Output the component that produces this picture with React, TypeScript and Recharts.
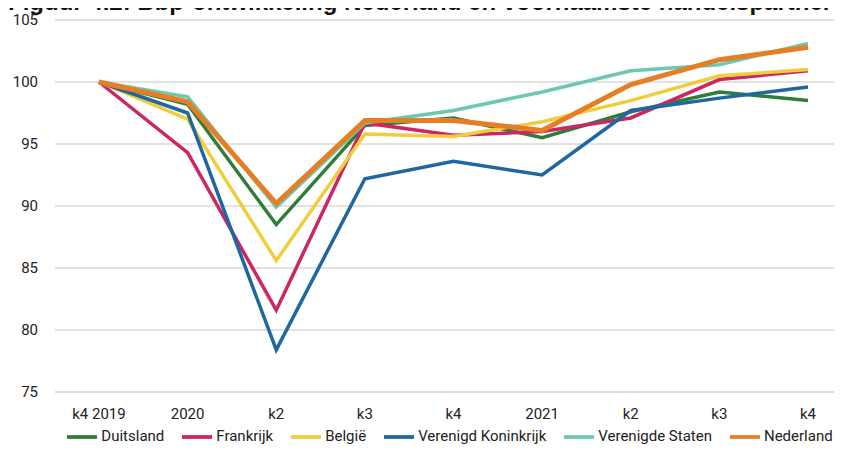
import React from "react";
import {
  LineChart,
  Line,
  XAxis,
  YAxis,
  CartesianGrid,
  Legend,
} from "recharts";

// kwartalen
const categories = ["k4 2019", "2020", "k2", "k3", "k4", "2021", "k2", "k3", "k4"];

// bbp-index, k4 2019 = 100
const duitsland = [100, 98.2, 88.5, 96.5, 97.1, 95.5, 97.6, 99.2, 98.5];
const frankrijk = [100, 94.3, 81.6, 96.7, 95.7, 96.0, 97.1, 100.2, 100.9];
const belgie = [100, 97.0, 85.6, 95.8, 95.6, 96.8, 98.5, 100.5, 101.0];
const verenigdKoninkrijk = [100, 97.5, 78.4, 92.2, 93.6, 92.5, 97.7, 98.7, 99.6];
const verenigdeStaten = [100, 98.8, 89.9, 96.7, 97.7, 99.2, 100.9, 101.4, 103.1];
const nederland = [100, 98.4, 90.2, 96.9, 96.9, 96.1, 99.8, 101.8, 102.8];

const yTicks = [75, 80, 85, 90, 95, 100, 105];

const seriesOrder = [
  "Duitsland",
  "Frankrijk",
  "België",
  "Verenigd Koninkrijk",
  "Verenigde Staten",
  "Nederland",
];

const data = categories.map((c, i) => ({
  name: c,
  Duitsland: duitsland[i],
  Frankrijk: frankrijk[i],
  België: belgie[i],
  "Verenigd Koninkrijk": verenigdKoninkrijk[i],
  "Verenigde Staten": verenigdeStaten[i],
  Nederland: nederland[i],
}));

const font = "'Liberation Sans Narrow', 'Roboto', sans-serif";

export default function App() {
  return (
    <div
      style={{
        position: "relative",
        margin: -8,
        width: 842,
        height: 452,
        overflow: "hidden",
        background: "#fff",
        fontFamily: font,
      }}
    >
      <div
        style={{
          position: "absolute",
          top: -12,
          left: 8,
          whiteSpace: "nowrap",
          fontFamily: "'Liberation Sans', Arial, sans-serif",
          fontWeight: "bold",
          fontSize: 24,
          lineHeight: "28px",
          color: "#111",
        }}
      >
        Figuur 4.2: Bbp-ontwikkeling Nederland en voornaamste handelspartners
      </div>
      <LineChart
        width={860}
        height={452}
        data={data}
        margin={{ top: 20, right: 8, left: 0, bottom: 4 }}
      >
        <CartesianGrid vertical={false} stroke="#d9d9d9" strokeWidth={1.5} />
        <XAxis
          dataKey="name"
          axisLine={{ stroke: "#d9d9d9", strokeWidth: 1.5 }}
          tickLine={false}
          tickMargin={10}
          height={26}
          interval={0}
          padding={{ left: 44, right: 44 }}
          tick={{ fill: "#222", fontSize: 15, fontFamily: font }}
        />
        <YAxis
          domain={[75, 105]}
          ticks={yTicks}
          width={55}
          axisLine={false}
          tickLine={false}
          tickMargin={11}
          tick={{ fill: "#222", fontSize: 15, fontFamily: font }}
        />
        <Legend
          verticalAlign="bottom"
          iconType="plainline"
          iconSize={30}
          itemSorter={(item: any) => seriesOrder.indexOf(item.value)}
          wrapperStyle={{ left: 64, width: 790, bottom: 0 }}
          formatter={(v) => (
            <span style={{ color: "#222", fontSize: 15, marginRight: 8 }}>{v}</span>
          )}
        />
        <Line type="linear" dataKey="Duitsland" stroke="#2f7d36" strokeWidth={3.5} dot={false} isAnimationActive={false} />
        <Line type="linear" dataKey="Frankrijk" stroke="#cc2764" strokeWidth={3.5} dot={false} isAnimationActive={false} />
        <Line type="linear" dataKey="België" stroke="#f0cd3c" strokeWidth={3.5} dot={false} isAnimationActive={false} />
        <Line type="linear" dataKey="Verenigd Koninkrijk" stroke="#1e67a0" strokeWidth={3.5} dot={false} isAnimationActive={false} />
        <Line type="linear" dataKey="Verenigde Staten" stroke="#6cc7b3" strokeWidth={3.5} dot={false} isAnimationActive={false} />
        <Line type="linear" dataKey="Nederland" stroke="#e67e26" strokeWidth={5} dot={false} isAnimationActive={false} />
      </LineChart>
    </div>
  );
}
